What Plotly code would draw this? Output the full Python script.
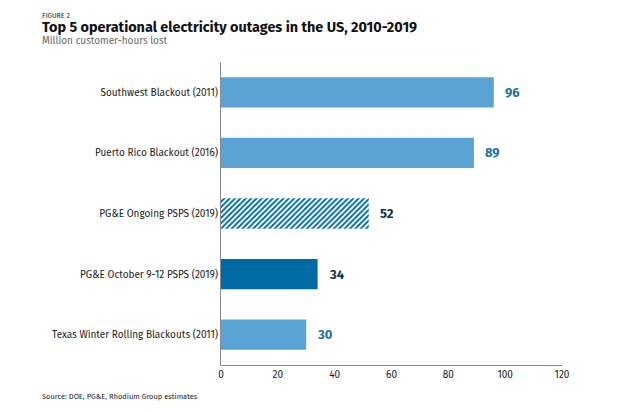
import plotly.graph_objects as go

categories = [
    "Southwest Blackout (2011)",
    "Puerto Rico Blackout (2016)",
    "PG&E Ongoing PSPS (2019)",
    "PG&E October 9-12 PSPS (2019)",
    "Texas Winter Rolling Blackouts (2011)",
]
values = [96, 89, 52, 34, 30]
bar_colors = ["#5ba3d4", "#5ba3d4", "#006aa5", "#006aa5", "#5ba3d4"]
label_colors = ["#1a6ea8", "#1a6ea8", "#16324f", "#16324f", "#1a6ea8"]
patterns = ["", "", "/", "", ""]
x_ticks = [0, 20, 40, 60, 80, 100, 120]

FONT = "Fira Sans, Lato, Open Sans, sans-serif"

fig = go.Figure()
fig.add_trace(go.Bar(
    y=categories,
    x=values,
    orientation="h",
    width=0.5,
    marker=dict(
        color=bar_colors,
        line=dict(width=0),
        pattern=dict(shape=patterns, bgcolor="#ffffff",
                     size=3.8, solidity=0.5, fillmode="replace"),
    ),
    hoverinfo="skip",
))

fig.update_layout(
    width=617, height=412,
    margin=dict(l=221, r=55, t=62, b=47),
    paper_bgcolor="white", plot_bgcolor="white",
    showlegend=False,
    font=dict(family=FONT, size=10, color="#222"),
    xaxis=dict(range=[0, 120], tickvals=x_ticks, showgrid=False, zeroline=False,
               showline=True, linecolor="#8a8a8a", linewidth=1, ticks="",
               tickfont=dict(size=10, color="#222"), fixedrange=True),
    yaxis=dict(categoryorder="array", categoryarray=categories[::-1], showgrid=False,
               showline=True, linecolor="#8a8a8a", linewidth=1, ticks="", ticklen=0,
               tickfont=dict(size=10, color="#222"), fixedrange=True),
)

def px_x(x):
    return (x - 221) / (617 - 221 - 55)

def px_y(y):
    return (412 - 47 - y) / (412 - 62 - 47)

for c, v, col in zip(categories, values, label_colors):
    fig.add_annotation(x=v, y=c, text="<b>%d</b>" % v, showarrow=False,
                       xanchor="left", xshift=9, font=dict(size=13, color=col, family=FONT))

fig.add_annotation(x=px_x(40), y=px_y(15), xref="paper", yref="paper", text="FIGURE 2",
                   showarrow=False, xanchor="left", yanchor="middle",
                   font=dict(size=7, color="#222", family=FONT))
fig.add_annotation(x=px_x(40), y=px_y(28), xref="paper", yref="paper",
                   text="<b>Top 5 operational electricity outages in the US, 2010-2019</b>",
                   showarrow=False, xanchor="left", yanchor="middle",
                   font=dict(size=14.4, color="#111", family=FONT))
fig.add_annotation(x=px_x(40), y=px_y(41), xref="paper", yref="paper",
                   text="Million customer-hours lost",
                   showarrow=False, xanchor="left", yanchor="middle",
                   font=dict(size=10, color="#666", family=FONT))
fig.add_annotation(x=px_x(40), y=px_y(396), xref="paper", yref="paper",
                   text="Source: DOE, PG&E, Rhodium Group estimates",
                   showarrow=False, xanchor="left", yanchor="middle",
                   font=dict(size=7.5, color="#222", family=FONT))

fig.write_html("out.html", config={"displayModeBar": False})
